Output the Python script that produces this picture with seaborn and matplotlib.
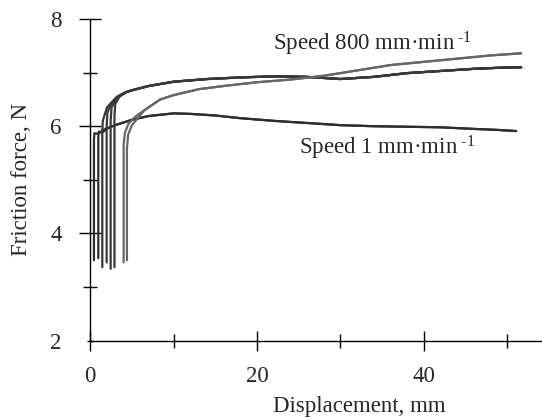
import pandas as pd
import seaborn as sns
import matplotlib.pyplot as plt
from matplotlib.ticker import MultipleLocator

# speed 1 mm/min runs (shared tail after the start-up)
slow_tail_x = [3, 5, 7, 10, 12, 15, 18, 22, 26, 30, 34, 38, 42, 46, 49, 51.1]
slow_tail_y = [6.02, 6.12, 6.19, 6.24, 6.23, 6.20, 6.15, 6.10, 6.06, 6.02, 6.00, 5.99, 5.98, 5.95, 5.93, 5.91]
slow_heads = {
    "s1": ([0.44, 0.44, 0.5, 0.9, 1.8], [3.50, 5.75, 5.87, 5.86, 5.95]),
    "s2": ([0.96, 0.96, 1.02, 1.4, 2.2], [3.54, 5.80, 5.90, 5.88, 5.97]),
}

# speed 800 mm/min, runs ending near 7.1 N
fastA_tail_x = [5, 7, 10, 14, 18, 22, 26, 30, 34, 38, 42, 46, 49, 51.7]
fastA_tail_y = [6.67, 6.75, 6.83, 6.88, 6.91, 6.93, 6.92, 6.88, 6.92, 6.99, 7.03, 7.07, 7.09, 7.10]
fastA_heads = {
    "a1": ([1.44, 1.44, 1.5, 2.0, 3.0, 4.2], [3.37, 5.90, 6.10, 6.35, 6.52, 6.63]),
    "a2": ([1.96, 1.96, 2.05, 2.5, 3.2, 4.3], [3.46, 6.00, 6.25, 6.42, 6.55, 6.64]),
    "a3": ([2.44, 2.44, 2.55, 3.0, 3.8, 4.4], [3.34, 6.10, 6.35, 6.48, 6.60, 6.64]),
    "a4": ([2.90, 2.90, 3.0, 3.5, 4.4], [3.37, 6.20, 6.42, 6.55, 6.64]),
}

# speed 800 mm/min, runs ending near 7.35 N
fastB_tail_x = [6.5, 8.4, 10, 13, 16, 20, 24, 28, 32, 36, 40, 44, 48, 51.7]
fastB_tail_y = [6.30, 6.50, 6.58, 6.69, 6.75, 6.82, 6.87, 6.94, 7.04, 7.14, 7.20, 7.26, 7.32, 7.36]
fastB_heads = {
    "b1": ([4.0, 4.0, 4.15, 4.6, 5.4], [3.46, 5.65, 5.88, 6.05, 6.18]),
    "b2": ([4.4, 4.4, 4.55, 5.0, 5.8], [3.50, 5.60, 5.85, 6.02, 6.17]),
}

rows = []
for group, heads, tx, ty in [("slow", slow_heads, slow_tail_x, slow_tail_y),
                             ("fastA", fastA_heads, fastA_tail_x, fastA_tail_y),
                             ("fastB", fastB_heads, fastB_tail_x, fastB_tail_y)]:
    for run, (hx, hy) in heads.items():
        for x, y in zip(hx + tx, hy + ty):
            rows.append({"group": group, "run": run, "disp": x, "force": y})
df = pd.DataFrame(rows)

sns.set_theme(style="white")
plt.rcParams["font.family"] = ["Liberation Serif", "DejaVu Serif"]
plt.rcParams["mathtext.fontset"] = "custom"
plt.rcParams["mathtext.rm"] = "Liberation Serif"
plt.rcParams["mathtext.it"] = "Liberation Serif:italic"

fig = plt.figure(figsize=(5.42, 4.19), dpi=100)
ax = fig.add_axes([0.1666, 0.1869, 0.8334, 0.7678])

palette = {"slow": "#2e2e2e", "fastA": "#383838", "fastB": "#666666"}
sns.lineplot(data=df, x="disp", y="force", hue="group", units="run",
             estimator=None, sort=False, palette=palette, linewidth=1.6,
             legend=False, ax=ax)

ax.set_xlim(0, 54.2)
ax.set_ylim(2, 8)
for s in ["top", "right"]:
    ax.spines[s].set_visible(False)
for s in ["left", "bottom"]:
    ax.spines[s].set_color("black")
    ax.spines[s].set_linewidth(1.0)

ax.xaxis.set_major_locator(MultipleLocator(20))
ax.xaxis.set_minor_locator(MultipleLocator(10))
ax.yaxis.set_major_locator(MultipleLocator(2))
ax.yaxis.set_minor_locator(MultipleLocator(1))
ax.tick_params(which="major", direction="inout", length=15, width=1.0,
               color="black", labelsize=16.5, bottom=True, left=True)
ax.tick_params(which="minor", direction="inout", length=10.5, width=1.0,
               color="black", bottom=True, left=True)
ax.tick_params(axis="x", which="major", pad=11)
ax.tick_params(axis="y", which="major", length=16, pad=12.5)
# the y tick at 2 only pokes out a little past the x axis
ax.yaxis.get_major_ticks()[1].tick1line.set_markersize(4)

ax.set_xlabel("Displacement, mm", fontsize=16.5)
ax.set_ylabel("Friction force, N", fontsize=16.5)
ax.xaxis.set_label_coords(0.595, -0.172)
ax.yaxis.set_label_coords(-0.13, 0.5)

ax.text(21.9, 7.42, r"Speed 800 mm·min$^{\text{ -1}}$", fontsize=16.5, va="baseline")
ax.text(25.0, 5.48, r"Speed 1 mm·min$^{\text{ -1}}$", fontsize=16.5, va="baseline")

fig.savefig("out.png", dpi=100)
